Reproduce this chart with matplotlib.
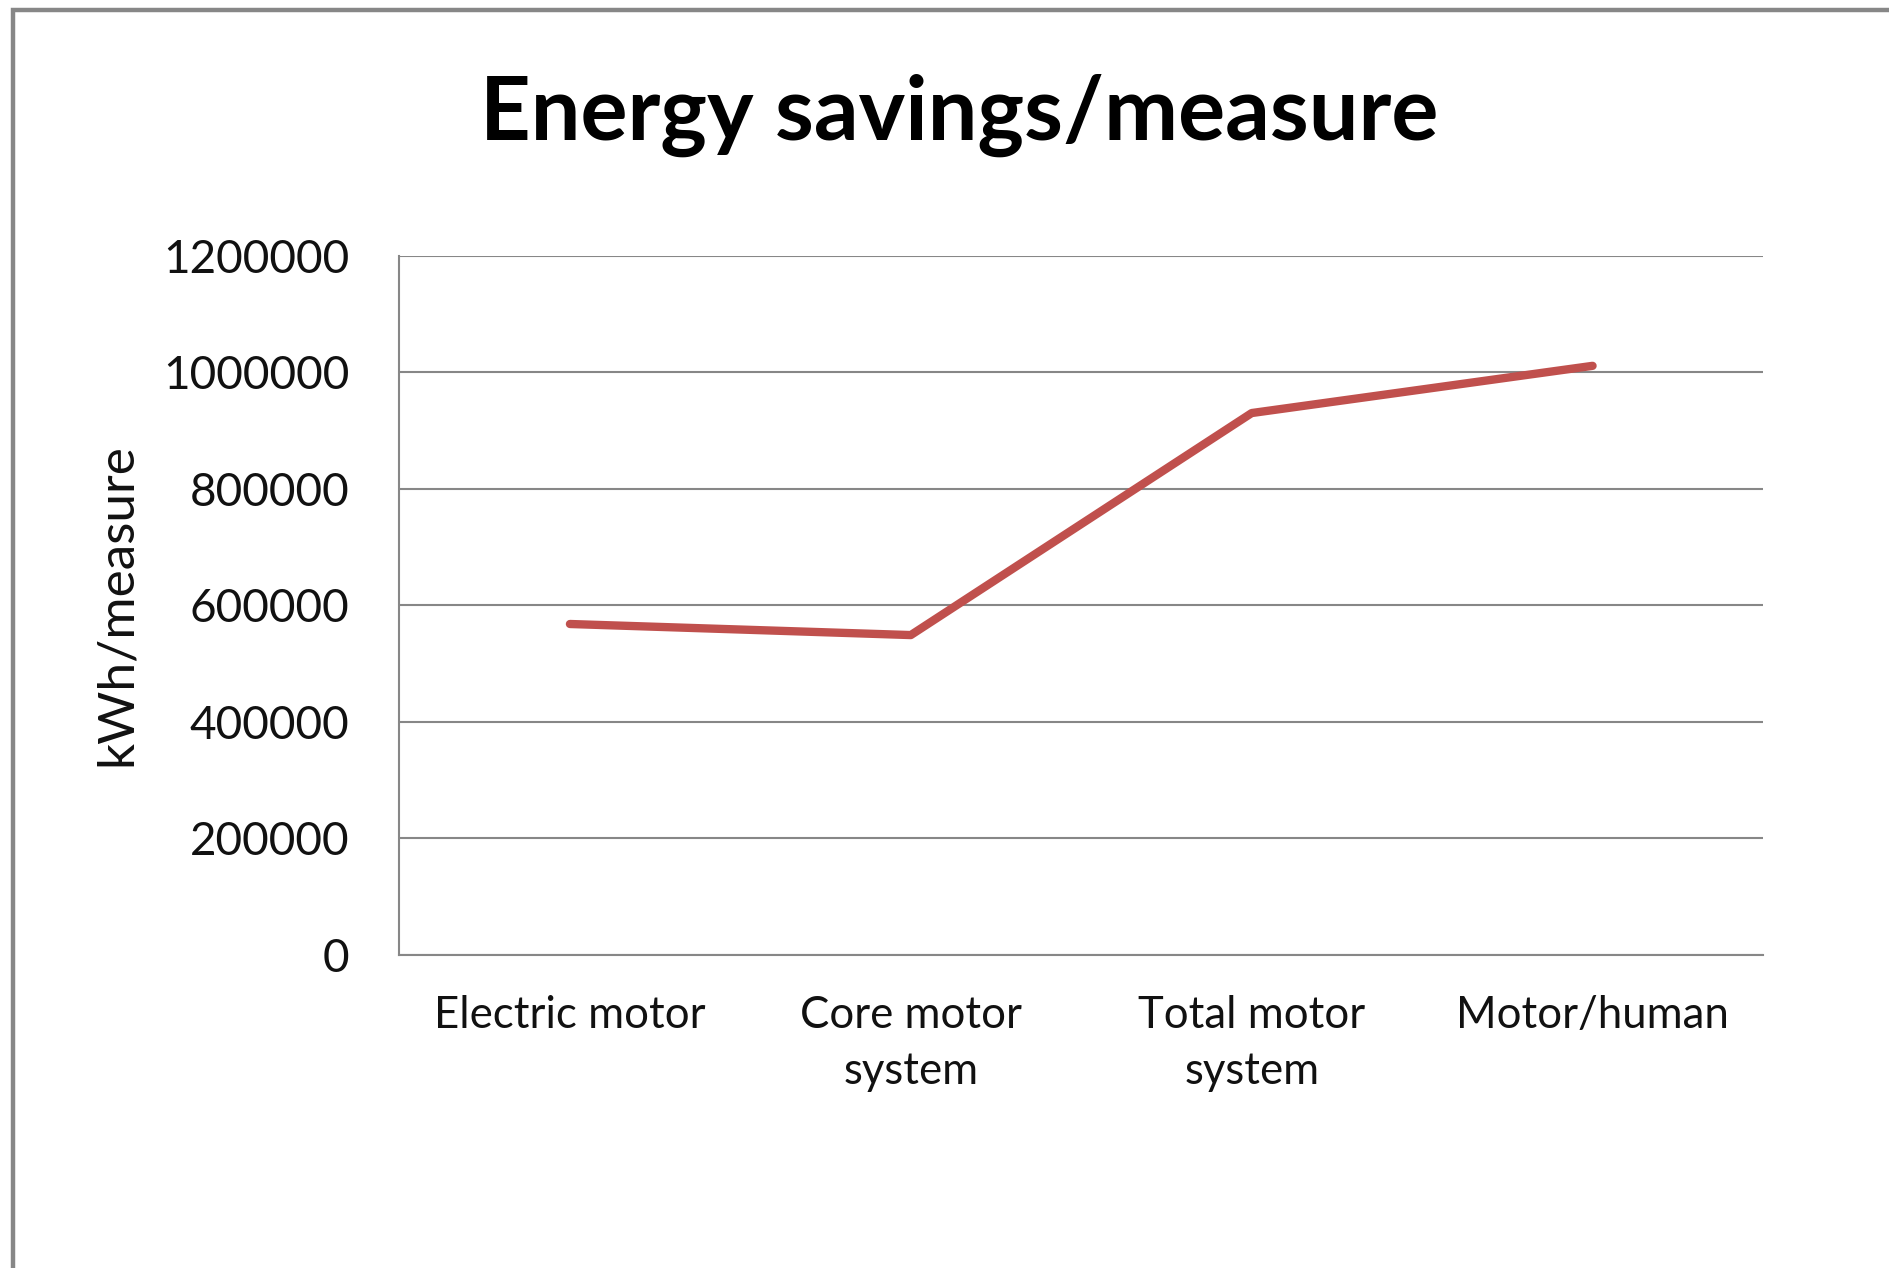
import matplotlib
matplotlib.use('Agg')
import matplotlib.pyplot as plt
from matplotlib.patches import Rectangle

# data
categories = ['Electric motor', 'Core motor\nsystem', 'Total motor\nsystem', 'Motor/human']
savings = [568000, 549000, 930000, 1011000]
yticks = [0, 200000, 400000, 600000, 800000, 1000000, 1200000]

plt.rcParams['font.family'] = ['Lato', 'DejaVu Sans']

W, H = 1890, 1268
fig = plt.figure(figsize=(W / 100, H / 100), dpi=100)
fig.patch.set_facecolor('white')

# chart frame (only the top and left edges are inside the picture)
frame = Rectangle((13.5 / W, -0.2), 2.0, 1.2 - 9.8 / H, transform=fig.transFigure,
                  fill=False, edgecolor='#878787', linewidth=3.2)
fig.add_artist(frame)

ax = fig.add_axes([399.5 / W, 1 - 955 / H, (1763 - 399.5) / W, (955 - 255.7) / H])
x = list(range(len(categories)))
ax.plot(x, savings, color='#C0504D', linewidth=6.0, solid_capstyle='round', zorder=3)

ax.set_xlim(-0.5, len(categories) - 0.5)
ax.set_ylim(0, 1200000)
ax.set_yticks(yticks)
ax.set_yticklabels([str(v) for v in yticks])
ax.set_xticks(x)
ax.set_xticklabels(categories, linespacing=1.45)

ax.grid(axis='y', color='#878787', linewidth=1.5)
ax.set_axisbelow(True)
for side in ['top', 'right']:
    ax.spines[side].set_visible(False)
for side in ['left', 'bottom']:
    ax.spines[side].set_color('#878787')
    ax.spines[side].set_linewidth(1.5)

ax.tick_params(axis='y', length=0, pad=36, labelsize=33, labelcolor='#111111')
ax.tick_params(axis='x', length=0, pad=29, labelsize=31.5, labelcolor='#111111')

fig.text(117 / W, 1 - 605 / H, 'kWh/measure', rotation=90, ha='center', va='center',
         fontsize=37, color='#111111')
fig.text(959.5 / W, 1 - 140 / H, 'Energy savings/measure', ha='center', va='baseline',
         fontsize=63.5, fontweight='bold', color='black')

fig.savefig('out.png', dpi=100, facecolor='white')
